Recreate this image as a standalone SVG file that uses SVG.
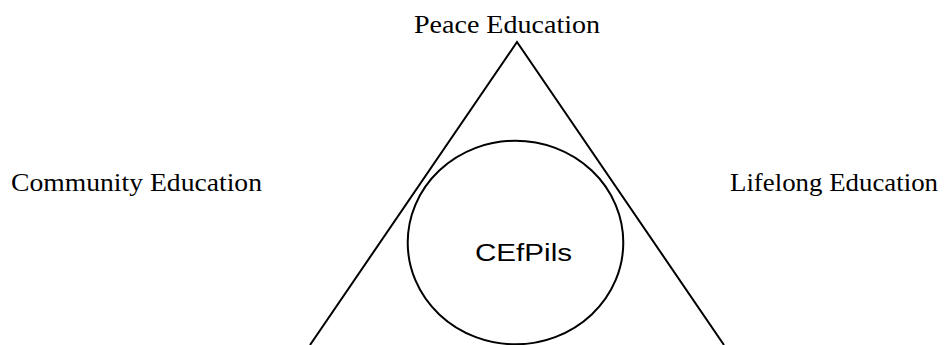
<svg xmlns="http://www.w3.org/2000/svg" width="944" height="345" viewBox="0 0 944 345">
<style>
.lbl{font-family:"Liberation Serif","DejaVu Serif",serif;font-size:26px;fill:#000}
.ctr{font-family:"Liberation Sans","Open Sans",sans-serif;font-size:23px;fill:#000}
.shape{fill:none;stroke:#000;stroke-width:2}
</style>
<rect width="944" height="345" fill="#fff"/>
<g id="connectors">
<path class="shape" d="M310,345 L517,42 L724,345"/>
</g>
<g id="peace"><text class="lbl" x="414" y="33" textLength="186" lengthAdjust="spacingAndGlyphs">Peace Education</text></g>
<g id="community"><text class="lbl" x="11" y="190.5" textLength="251" lengthAdjust="spacingAndGlyphs">Community Education</text></g>
<g id="lifelong"><text class="lbl" x="730" y="190.5" textLength="208" lengthAdjust="spacingAndGlyphs">Lifelong Education</text></g>
<g id="cefpils">
<ellipse class="shape" cx="515.5" cy="242.5" rx="107.8" ry="101.8"/>
<text class="ctr" x="475" y="261" textLength="97" lengthAdjust="spacingAndGlyphs">CEfPils</text>
</g>
</svg>
